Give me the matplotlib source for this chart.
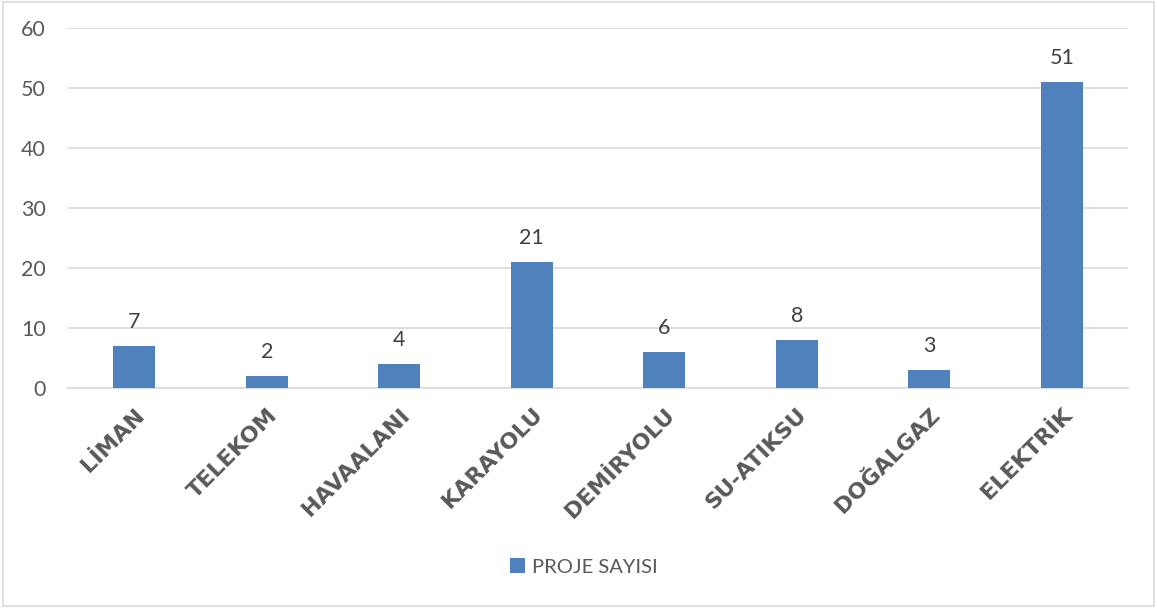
import matplotlib.pyplot as plt
from matplotlib.patches import Rectangle

categories = ["LİMAN", "TELEKOM", "HAVAALANI", "KARAYOLU", "DEMİRYOLU", "SU-ATIKSU", "DOĞALGAZ", "ELEKTRİK"]
proje_sayisi = [7, 2, 4, 21, 6, 8, 3, 51]

bar_color = "#4f81bd"
text_color = "#595959"

fig = plt.figure(figsize=(11.57, 6.08), dpi=100)
ax = fig.add_axes([68 / 1157, 1 - 388 / 608, 1060 / 1157, 360 / 608])

x = range(len(categories))
bars = ax.bar(x, proje_sayisi, width=0.32, color=bar_color, label="PROJE SAYISI", zorder=3)

for xi, v in zip(x, proje_sayisi):
    ax.annotate(str(v), (xi, v), xytext=(0, 10), textcoords="offset points",
                ha="center", va="bottom", fontsize=15.5, color="#404040", family="Lato")

ax.set_xlim(-0.5, len(categories) - 0.5)
ax.set_ylim(0, 60)
ax.set_yticks(range(0, 61, 10))
ax.grid(axis="y", color="#d9d9d9", linewidth=1.2, zorder=0)
for s in ["top", "right", "left"]:
    ax.spines[s].set_visible(False)
ax.spines["bottom"].set_color("#d9d9d9")
ax.spines["bottom"].set_linewidth(1.2)
ax.tick_params(axis="both", length=0, colors=text_color)
ax.tick_params(axis="y", labelsize=15.5, pad=16)
ax.tick_params(axis="x", pad=12)

ax.set_xticks(list(x))
ax.set_xticklabels(categories)
for lab in ax.get_yticklabels():
    lab.set_family("Lato")
for lab in ax.get_xticklabels():
    lab.set_family("DejaVu Sans")
    lab.set_fontweight("bold")
    lab.set_fontsize(16)
    lab.set_rotation(45)
    lab.set_ha("right")
    lab.set_rotation_mode("anchor")
    lab.set_color(text_color)

leg = fig.legend(handles=[bars], labels=["PROJE SAYISI"], loc="center",
                 bbox_to_anchor=(584 / 1157, 1 - 567 / 608), frameon=False,
                 prop={"family": "Lato", "size": 14.5}, handlelength=0.75, handleheight=0.75,
                 handletextpad=0.35)
for t in leg.get_texts():
    t.set_color(text_color)

fig.patches.append(Rectangle((0.003, 0.003), 0.994, 0.994, transform=fig.transFigure,
                             fill=False, edgecolor="#d9d9d9", linewidth=1.2))

fig.savefig("out.png", dpi=100)
